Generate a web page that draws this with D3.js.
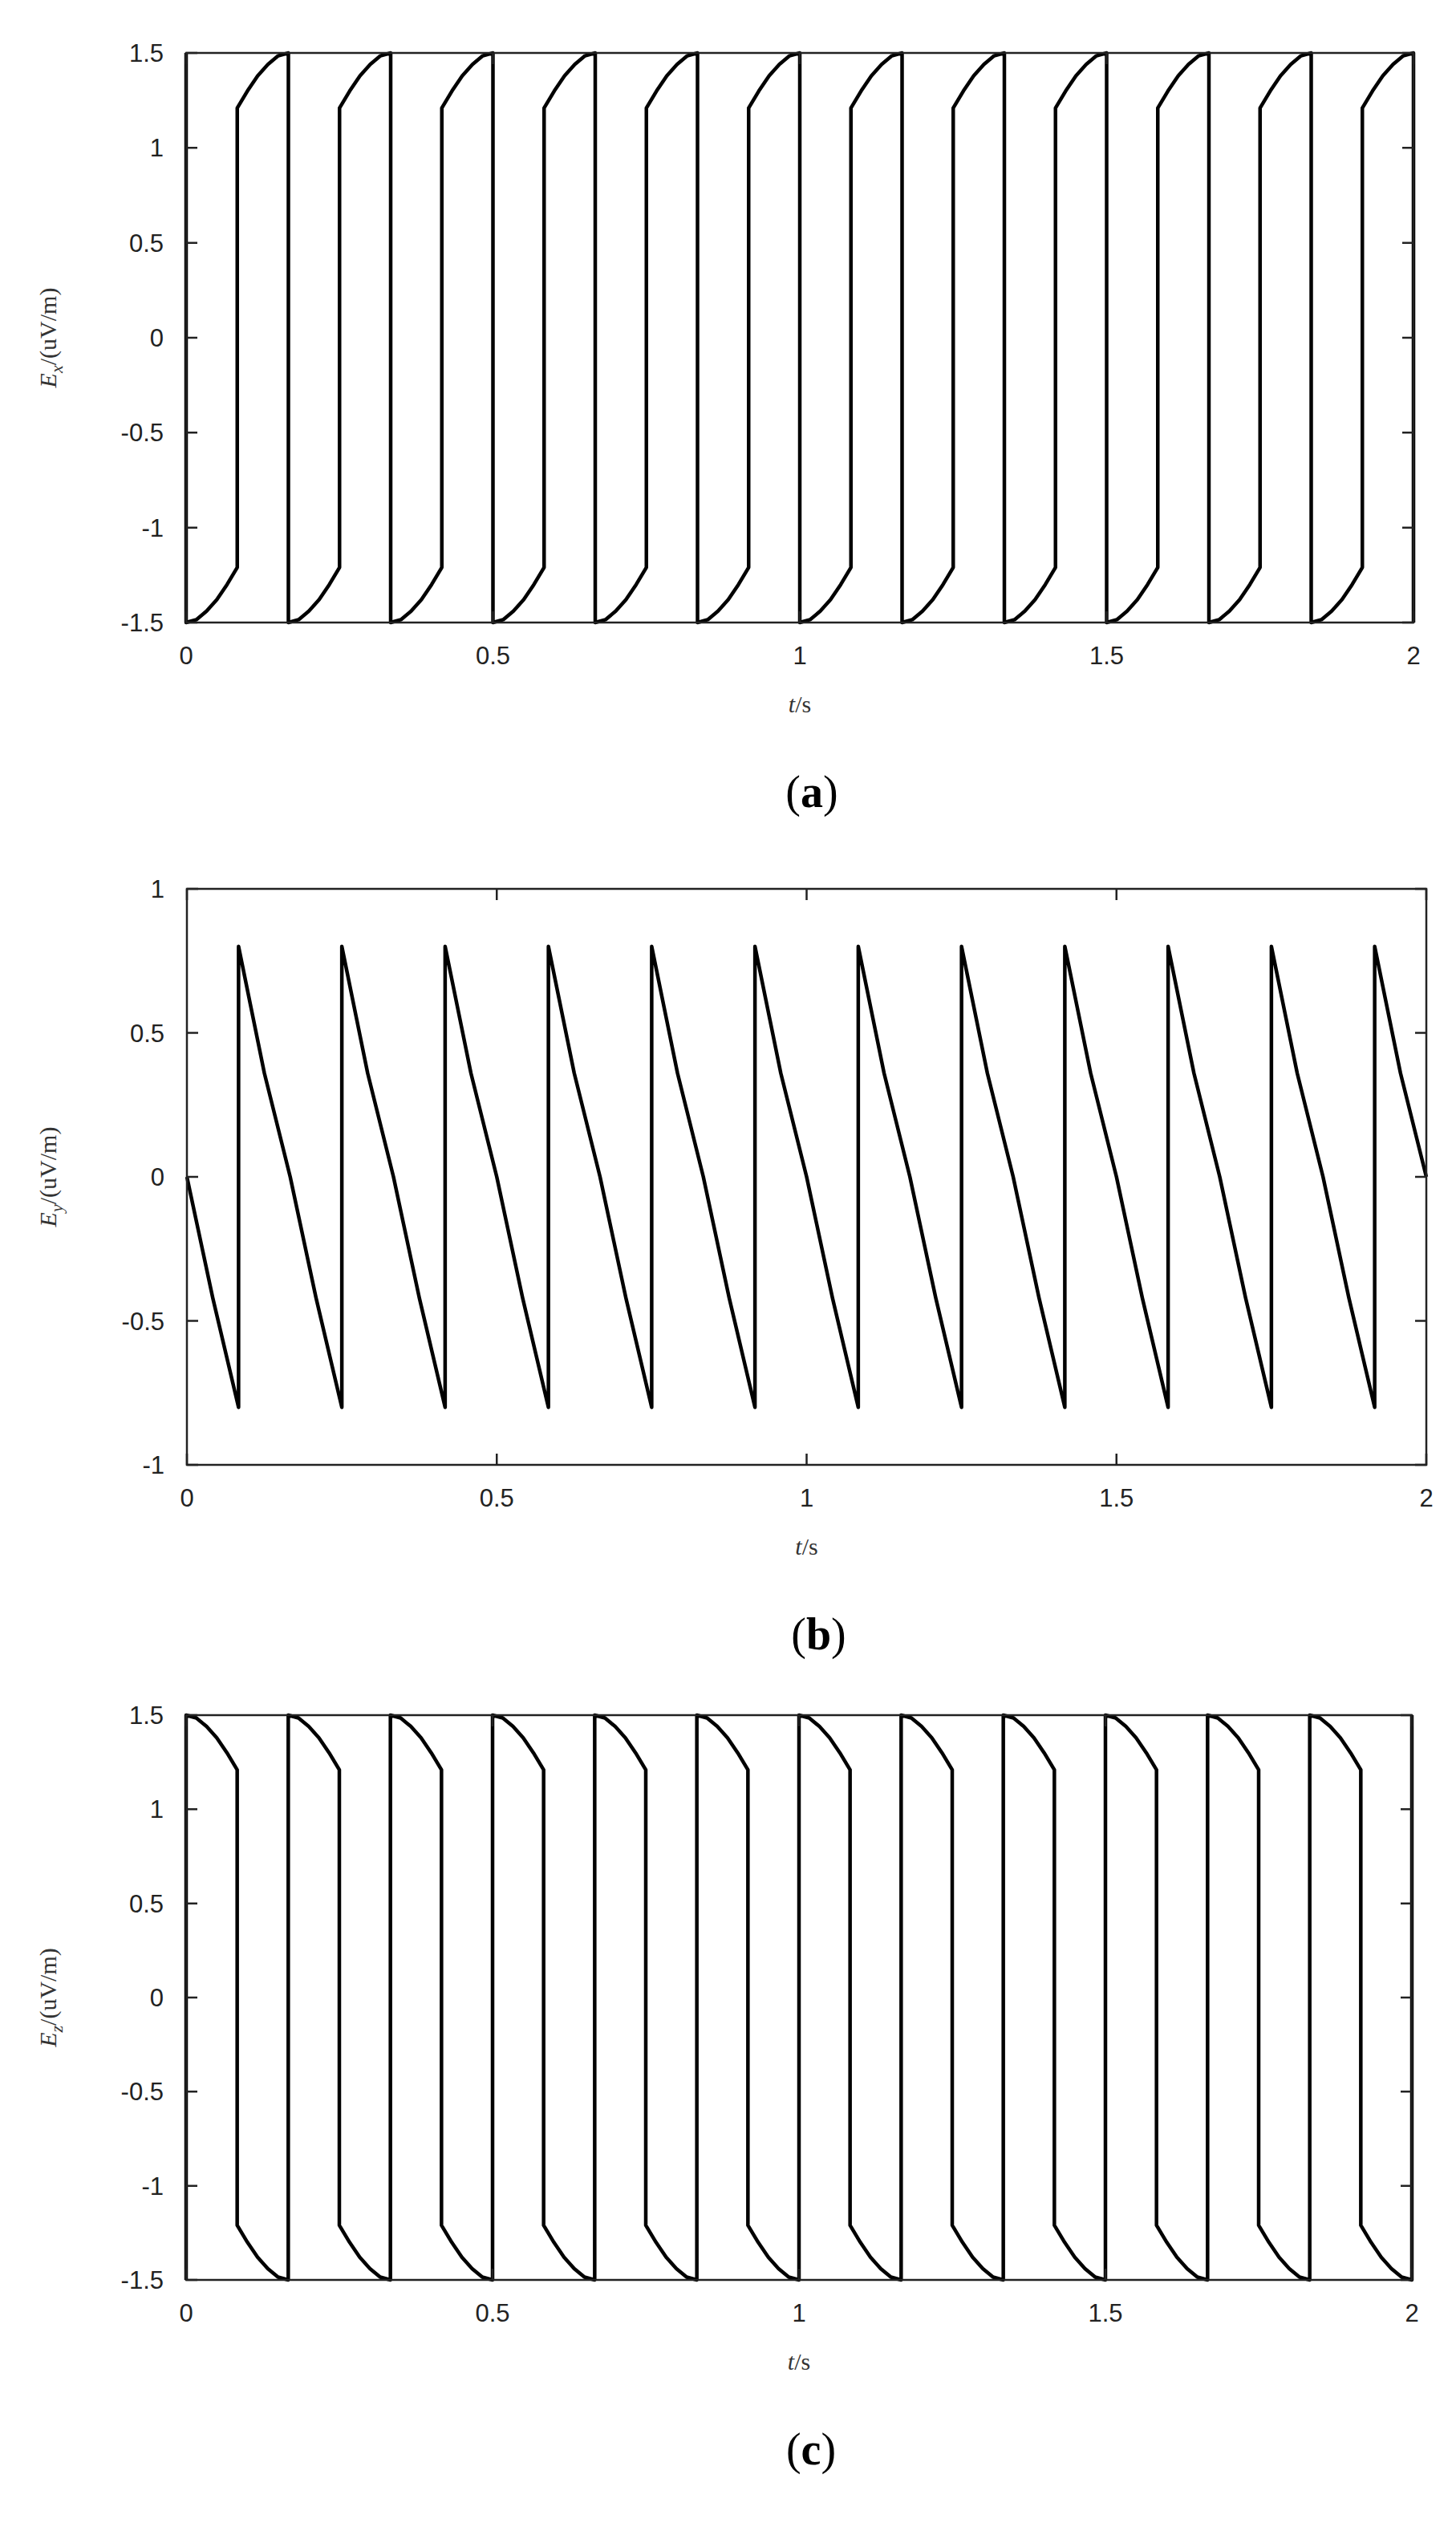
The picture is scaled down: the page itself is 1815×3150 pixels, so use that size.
<!DOCTYPE html>
<html>
<head>
<meta charset="utf-8">
<script src="https://cdn.jsdelivr.net/npm/d3@7"></script>
<style>
  body { margin: 0; background: #fff; }
  svg { display: block; }
</style>
</head>
<body>
<svg id="chart" width="1815" height="3150"></svg>
<script>
// one period of each waveform (phase as fraction of the period, value)
const period = 1 / 6;
const cycleCount = 12;
const xTicks = [0, 0.5, 1, 1.5, 2];

const exPhase = [0, 0.1, 0.2, 0.3, 0.4, 0.5, 0.5, 0.6, 0.7, 0.8, 0.9, 1.0, 1.0];
const exValue = [-1.5, -1.485, -1.44, -1.38, -1.3, -1.21, 1.21, 1.3, 1.38, 1.44, 1.485, 1.5, -1.5];

// Ey period begins at the upward jump
const eyPhase = [0, 0.25, 0.5, 0.75, 1.0];
const eyValue = [0.8, 0.36, 0, -0.42, -0.8];

const ezPhase = [0, 0.1, 0.2, 0.3, 0.4, 0.5, 0.5, 0.6, 0.7, 0.8, 0.9, 1.0, 1.0];
const ezValue = [1.5, 1.485, 1.44, 1.38, 1.3, 1.21, -1.21, -1.3, -1.38, -1.44, -1.485, -1.5, 1.5];

const panels = [
  { phase: exPhase, value: exValue, offset: 0, yDomain: [-1.5, 1.5], yTicks: [-1.5, -1, -0.5, 0, 0.5, 1, 1.5],
    sub: "x", tag: "a", top: 66, bottom: 776, left: 232, right: 1762 },
  { phase: eyPhase, value: eyValue, offset: 0.5, yDomain: [-1, 1], yTicks: [-1, -0.5, 0, 0.5, 1],
    sub: "y", tag: "b", top: 1108, bottom: 1826, left: 233, right: 1778 },
  { phase: ezPhase, value: ezValue, offset: 0, yDomain: [-1.5, 1.5], yTicks: [-1.5, -1, -0.5, 0, 0.5, 1, 1.5],
    sub: "z", tag: "c", top: 2138, bottom: 2842, left: 232, right: 1760 }
];

const svg = d3.select("#chart");

panels.forEach(function (p) {
  // tile the single period across 0..2 s
  const pts = [];
  for (let k = -1; k <= cycleCount; k++) {
    p.phase.forEach((f, i) => {
      const t = (k + p.offset + f) * period;
      if (t >= -1e-9 && t <= 2 + 1e-9) pts.push([t, p.value[i]]);
    });
  }

  const x = d3.scaleLinear().domain([0, 2]).range([p.left, p.right]);
  const y = d3.scaleLinear().domain(p.yDomain).range([p.bottom, p.top]);
  const g = svg.append("g");

  g.append("path")
    .datum(pts)
    .attr("fill", "none")
    .attr("stroke", "#000")
    .attr("stroke-width", 4.5)
    .attr("stroke-linejoin", "round")
    .attr("d", d3.line().x(d => x(d[0])).y(d => y(d[1])));

  g.append("rect")
    .attr("x", p.left).attr("y", p.top)
    .attr("width", p.right - p.left).attr("height", p.bottom - p.top)
    .attr("fill", "none").attr("stroke", "#222").attr("stroke-width", 2.5);

  const tl = 14;
  g.selectAll(".yt").data(p.yTicks).enter().append("path")
    .attr("stroke", "#222").attr("stroke-width", 2.5)
    .attr("d", d => `M${p.left},${y(d)}h${tl}M${p.right},${y(d)}h${-tl}`);
  g.selectAll(".xt").data(xTicks).enter().append("path")
    .attr("stroke", "#222").attr("stroke-width", 2.5)
    .attr("d", d => `M${x(d)},${p.bottom}v${-tl}M${x(d)},${p.top}v${tl}`);

  g.selectAll(".yl").data(p.yTicks).enter().append("text")
    .attr("x", p.left - 28).attr("y", d => y(d) + 11)
    .attr("text-anchor", "end")
    .attr("font-family", "Liberation Sans, Arial, sans-serif")
    .attr("font-size", 31)
    .attr("fill", "#222")
    .text(d => String(d));
  g.selectAll(".xl").data(xTicks).enter().append("text")
    .attr("x", d => x(d)).attr("y", p.bottom + 52)
    .attr("text-anchor", "middle")
    .attr("font-family", "Liberation Sans, Arial, sans-serif")
    .attr("font-size", 31)
    .attr("fill", "#222")
    .text(d => String(d));

  const xt = g.append("text")
    .attr("x", (p.left + p.right) / 2).attr("y", p.bottom + 112)
    .attr("text-anchor", "middle")
    .attr("font-family", "Liberation Serif, Times New Roman, serif")
    .attr("font-size", 30)
    .attr("fill", "#333");
  xt.append("tspan").attr("font-style", "italic").text("t");
  xt.append("tspan").text("/s");

  const cy = (p.top + p.bottom) / 2;
  const yt = g.append("text")
    .attr("transform", `translate(70,${cy}) rotate(-90)`)
    .attr("text-anchor", "middle")
    .attr("font-family", "Liberation Serif, Times New Roman, serif")
    .attr("font-size", 30)
    .attr("fill", "#333");
  yt.append("tspan").attr("font-style", "italic").text("E");
  yt.append("tspan").attr("font-style", "italic").attr("font-size", 22).attr("dy", 8).text(p.sub);
  yt.append("tspan").attr("dy", -8).text("/(uV/m)");

  const lab = g.append("text")
    .attr("x", (p.left + p.right) / 2 + 15).attr("y", p.bottom + 230)
    .attr("text-anchor", "middle")
    .attr("font-family", "Liberation Serif, Times New Roman, serif")
    .attr("font-size", 56);
  lab.append("tspan").text("(");
  lab.append("tspan").attr("font-weight", "bold").text(p.tag);
  lab.append("tspan").text(")");
});
</script>
</body>
</html>
